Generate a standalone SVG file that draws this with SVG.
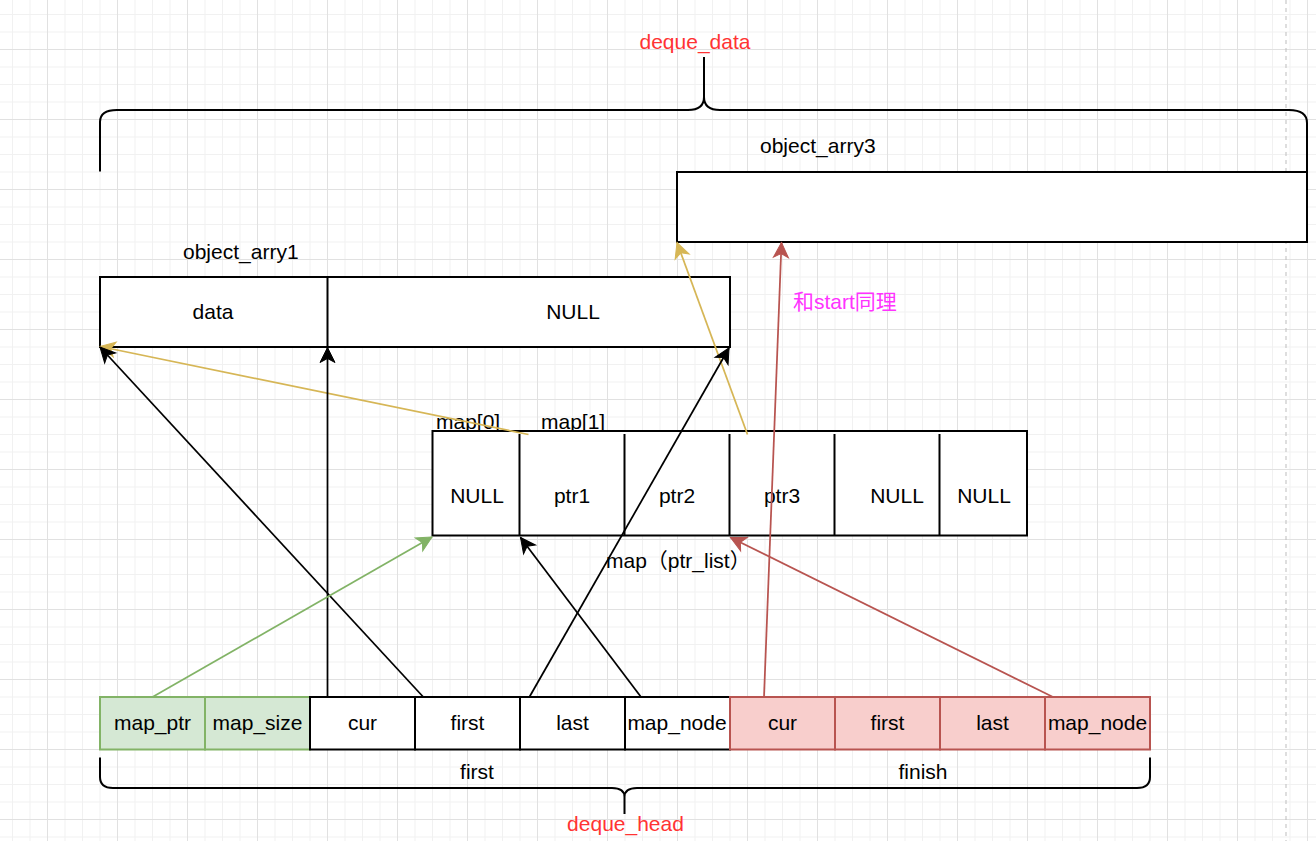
<svg xmlns="http://www.w3.org/2000/svg" width="1316" height="841" viewBox="0 0 1316 841">
<style>
.t{font-family:"Liberation Sans",Arial,"Noto Sans CJK SC",sans-serif;font-size:21px;fill:#000}
.m{text-anchor:middle}
.box{fill:#fff;stroke:#000;stroke-width:2}
.grn{fill:#d5e8d4;stroke:#82b366;stroke-width:2}
.red{fill:#f8cecc;stroke:#b85450;stroke-width:2}
.br{fill:none;stroke:#000;stroke-width:2}
.div{stroke:#000;stroke-width:2}
.c{fill:none;stroke-width:1.75}
</style>
<defs>
<pattern id="grid" width="70" height="70" patternUnits="userSpaceOnUse" x="47" y="49">
<path d="M18,0V70M35.5,0V70M53,0V70M0,18H70M0,35.5H70M0,53H70" stroke="#f1f1f1" stroke-width="1" fill="none"/>
<path d="M0.5,0V70M0,0.5H70" stroke="#e1e1e1" stroke-width="1" fill="none"/>
</pattern>
<marker id="ak" markerUnits="userSpaceOnUse" viewBox="-16 -9 17 18" markerWidth="17" markerHeight="18" refX="0" refY="0" orient="auto" overflow="visible"><path d="M0,0L-15,-7.5L-11,0L-15,7.5Z" fill="#000" stroke="#000" stroke-width="1"/></marker>
<marker id="ag" markerUnits="userSpaceOnUse" viewBox="-16 -9 17 18" markerWidth="17" markerHeight="18" refX="0" refY="0" orient="auto" overflow="visible"><path d="M0,0L-15,-7.5L-11,0L-15,7.5Z" fill="#82b366" stroke="#82b366" stroke-width="1"/></marker>
<marker id="ar" markerUnits="userSpaceOnUse" viewBox="-16 -9 17 18" markerWidth="17" markerHeight="18" refX="0" refY="0" orient="auto" overflow="visible"><path d="M0,0L-15,-7.5L-11,0L-15,7.5Z" fill="#b85450" stroke="#b85450" stroke-width="1"/></marker>
<marker id="ay" markerUnits="userSpaceOnUse" viewBox="-16 -9 17 18" markerWidth="17" markerHeight="18" refX="0" refY="0" orient="auto" overflow="visible"><path d="M0,0L-15,-7.5L-11,0L-15,7.5Z" fill="#d6b656" stroke="#d6b656" stroke-width="1"/></marker>
</defs>
<rect width="1316" height="841" fill="#fff"/>
<rect width="1316" height="841" fill="url(#grid)"/>
<path d="M1286,0V841" stroke="#bdbdbd" stroke-width="1" stroke-dasharray="4,4"/>

<g id="deque_data">
<path class="br" d="M100,171.5V122Q100,110 117,110H688Q704,110 704,97V57M704,97Q704,110 720,110H1289Q1307,110 1307,123V172"/>
<text class="t m" x="695" y="48.5" style="fill:#ff3333">deque_data</text>
</g>

<g id="object_arry3">
<text class="t" x="760" y="152.5">object_arry3</text>
<rect class="box" x="677" y="172" width="630" height="70"/>
</g>

<g id="object_arry1">
<text class="t" x="183" y="258.5">object_arry1</text>
<rect class="box" x="100" y="277" width="630" height="70"/>
<line class="div" x1="327.5" y1="277" x2="327.5" y2="347"/>
<text class="t m" x="213" y="318.5">data</text>
<text class="t m" x="573" y="318.5">NULL</text>
</g>

<g id="map">
<text class="t" x="436" y="429">map[0]</text>
<text class="t" x="541" y="429">map[1]</text>
<rect class="box" x="432.5" y="431" width="594.5" height="104.5"/>
<path class="div" d="M519.5,434V535.5M624.5,434V535.5M729.5,434V535.5M834.5,434V535.5M939.5,434V535.5"/>
<text class="t m" x="477" y="502.5">NULL</text>
<text class="t m" x="572" y="502.5">ptr1</text>
<text class="t m" x="677" y="502.5">ptr2</text>
<text class="t m" x="782" y="502.5">ptr3</text>
<text class="t m" x="897" y="502.5">NULL</text>
<text class="t m" x="984" y="502.5">NULL</text>
<text class="t" x="606" y="568">map（ptr_list）</text>
</g>

<g id="note">
<text class="t" x="793" y="309" style="fill:#ff33ff">和start同理</text>
</g>

<g id="deque_head_row">
<rect class="grn" x="100" y="697" width="105" height="52.5"/>
<rect class="grn" x="205" y="697" width="105" height="52.5"/>
<rect class="box" x="310" y="697" width="105" height="52.5"/>
<rect class="box" x="415" y="697" width="105" height="52.5"/>
<rect class="box" x="520" y="697" width="105" height="52.5"/>
<rect class="box" x="625" y="697" width="105" height="52.5"/>
<rect class="red" x="730" y="697" width="105" height="52.5"/>
<rect class="red" x="835" y="697" width="105" height="52.5"/>
<rect class="red" x="940" y="697" width="105" height="52.5"/>
<rect class="red" x="1045" y="697" width="105" height="52.5"/>
<text class="t m" x="152.5" y="730">map_ptr</text>
<text class="t m" x="257.5" y="730">map_size</text>
<text class="t m" x="362.5" y="730">cur</text>
<text class="t m" x="467.5" y="730">first</text>
<text class="t m" x="572.5" y="730">last</text>
<text class="t m" x="677" y="730">map_node</text>
<text class="t m" x="782.5" y="730">cur</text>
<text class="t m" x="887.5" y="730">first</text>
<text class="t m" x="992.5" y="730">last</text>
<text class="t m" x="1097.5" y="730">map_node</text>
</g>

<g id="deque_head">
<path class="br" d="M100,757.5V777Q100,788 113,788H612Q624.5,788 624.5,797V814M624.5,797Q624.5,788 637,788H1137Q1150,788 1150,777V757.5"/>
<text class="t m" x="477" y="778.5">first</text>
<text class="t m" x="923" y="778.5">finish</text>
<text class="t m" x="625.5" y="831" style="fill:#ff3333">deque_head</text>
</g>

<g id="connectors">
<path class="c" stroke="#d6b656" d="M528.5,434.5L100,346.5" marker-end="url(#ay)"/>
<path class="c" stroke="#d6b656" d="M747.5,434.5L677,242.5" marker-end="url(#ay)"/>
<path class="c" stroke="#000" d="M423.3,697L100,347" marker-end="url(#ak)"/>
<path class="c" stroke="#000" d="M327.5,697V347.5" marker-end="url(#ak)"/>
<path class="c" stroke="#000" d="M529.4,697L729,348" marker-end="url(#ak)"/>
<path class="c" stroke="#000" d="M641,697L520.5,537.5" marker-end="url(#ak)"/>
<path class="c" stroke="#82b366" d="M152.5,697L432,537" marker-end="url(#ag)"/>
<path class="c" stroke="#b85450" d="M764,697L781.5,242.5" marker-end="url(#ar)"/>
<path class="c" stroke="#b85450" d="M1053,697L730.5,537.5" marker-end="url(#ar)"/>
</g>
</svg>
